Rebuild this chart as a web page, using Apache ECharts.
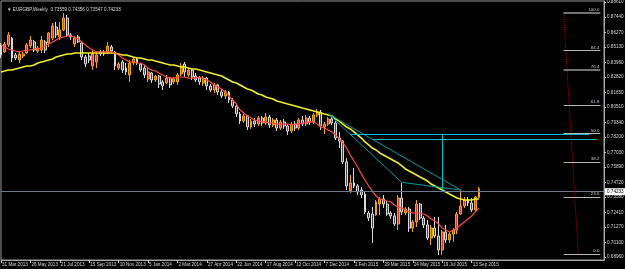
<!DOCTYPE html>
<html>
<head>
<meta charset="utf-8">
<script src="https://cdn.jsdelivr.net/npm/echarts@6/dist/echarts.min.js"></script>
<style>html,body{margin:0;padding:0;background:#000;}#c{width:625px;height:269px;}</style>
</head>
<body>
<div id="c"></div>
<script>
// ---- data (weekly EURGBP, from 31 Mar 2013) ----
const tickLabels = ["31 Mar 2013","26 May 2013","21 Jul 2013","15 Sep 2013","10 Nov 2013","5 Jan 2014","2 Mar 2014","27 Apr 2014","22 Jun 2014","17 Aug 2014","12 Oct 2014","7 Dec 2014","1 Feb 2015","29 Mar 2015","24 May 2015","19 Jul 2015","13 Sep 2015"];
const opens = [.8530,.8476,.8530,.8583,.8453,.8414,.8445,.8468,.8522,.8553,.8483,.8491,.8553,.8545,.8583,.8668,.8591,.8645,.8737,.8607,
.8537,.8591,.8545,.8437,.8445,.8368,.8399,.8476,.8468,.8468,.8514,.8476,.8352,.8399,.8352,.8299,.8391,.8422,.8383,.8352,
.8268,.8314,.8260,.8291,.8245,.8237,.8275,.8245,.8245,.8306,.8383,.8299,.8337,.8291,.8275,.8237,.8275,.8214,.8183,.8222,
.8168,.8137,.8168,.8106,.8060,.7998,.7944,.7983,.7898,.7944,.7921,.7967,.7929,.7975,.7914,.7952,.7890,.7937,.7906,.7867,
.7921,.7890,.7952,.7921,.7967,.7937,.7991,.8014,.7898,.7921,.7960,.7929,.7813,.7790,.7629,.7405,.7467,.7444,.7413,.7382,
.7236,.7228,.7221,.7305,.7344,.7305,.7236,.7213,.7151,.7351,.7236,.7267,.7120,.7167,.7305,.7197,.7144,.7043,.7120,.7059,
.6951,.7090,.7028,.7074,.7105,.7228,.7290,.7336,.7313,.7259,.73559];
const closes = [.8453,.8537,.8607,.8429,.8429,.8460,.8460,.8530,.8568,.8491,.8506,.8568,.8491,.8622,.8676,.8607,.8645,.8737,.8607,.8591,
.8583,.8553,.8437,.8383,.8414,.8460,.8453,.8460,.8460,.8522,.8483,.8368,.8383,.8337,.8322,.8391,.8422,.8391,.8337,.8299,
.8322,.8260,.8291,.8229,.8214,.8275,.8222,.8268,.8299,.8368,.8322,.8337,.8283,.8260,.8245,.8275,.8214,.8183,.8222,.8168,
.8137,.8168,.8106,.8060,.7998,.7944,.7983,.7898,.7944,.7921,.7967,.7929,.7975,.7914,.7952,.7890,.7937,.7906,.7867,.7921,
.7890,.7952,.7921,.7967,.7937,.7991,.8014,.7906,.7921,.7960,.7929,.7813,.7790,.7629,.7444,.7467,.7444,.7398,.7375,.7244,
.7197,.7120,.7321,.7344,.7305,.7228,.7213,.7151,.7351,.7244,.7267,.7120,.7167,.7305,.7197,.7144,.7043,.7120,.7059,.6951,
.7090,.7028,.7074,.7105,.7228,.7290,.7336,.7313,.7259,.7359,.74233];
const lows = [.8429,.8468,.8514,.8399,.8414,.8391,.8429,.8460,.8506,.8476,.8468,.8468,.8468,.8514,.8568,.8583,.8568,.8637,.8591,.8568,
.8514,.8545,.8414,.8360,.8391,.8337,.8352,.8445,.8445,.8460,.8468,.8337,.8337,.8314,.8299,.8245,.8376,.8376,.8322,.8275,
.8245,.8237,.8245,.8198,.8183,.8229,.8198,.8229,.8222,.8291,.8283,.8283,.8260,.8245,.8222,.8214,.8183,.8168,.8160,.8145,
.8121,.8114,.8083,.8044,.7975,.7921,.7929,.7875,.7883,.7898,.7906,.7906,.7914,.7890,.7898,.7867,.7875,.7883,.7837,.7852,
.7867,.7875,.7906,.7906,.7914,.7921,.7975,.7875,.7844,.7906,.7914,.7798,.7736,.7613,.7413,.7390,.7428,.7375,.7351,.7228,
.7174,.7005,.7213,.7221,.7274,.7213,.7190,.7136,.7105,.7221,.7221,.7090,.7090,.7128,.7182,.7120,.7028,.6990,.7043,.6913,
.6913,.7005,.7005,.7013,.7074,.7221,.7274,.7290,.7244,.7251,.73547];
const highs = [.8545,.8553,.8630,.8591,.8468,.8476,.8476,.8545,.8599,.8568,.8522,.8599,.8568,.8630,.8699,.8707,.8707,.8776,.8761,.8622,
.8599,.8607,.8553,.8453,.8468,.8491,.8476,.8491,.8491,.8553,.8530,.8483,.8399,.8414,.8391,.8414,.8437,.8429,.8391,.8376,
.8352,.8322,.8299,.8299,.8260,.8299,.8283,.8283,.8314,.8391,.8399,.8352,.8345,.8314,.8291,.8291,.8283,.8229,.8237,.8229,
.8191,.8183,.8175,.8121,.8075,.8014,.7998,.7991,.7960,.7967,.7983,.7983,.8006,.7991,.7967,.7967,.7952,.7960,.7921,.7937,
.7944,.7967,.7983,.7991,.7983,.8006,.8037,.8029,.7937,.7975,.7975,.7944,.7860,.7798,.7659,.7529,.7582,.7459,.7436,.7398,
.7251,.7282,.7336,.7359,.7375,.7328,.7251,.7236,.7375,.7467,.7282,.7282,.7182,.7336,.7313,.7213,.7182,.7144,.7205,.7205,
.7105,.7144,.7090,.7120,.7244,.7413,.7359,.7359,.7351,.7367,.74356];
const fastMA = [.8530,.8514,.8499,.8491,.8483,.8476,.8483,.8491,.8491,.8499,.8499,.8506,.8522,.8537,.8553,.8568,.8583,.8591,.8599,.8599,
.8591,.8576,.8553,.8530,.8506,.8491,.8476,.8476,.8476,.8476,.8476,.8468,.8453,.8429,.8414,.8399,.8399,.8391,.8391,.8376,
.8352,.8337,.8329,.8314,.8299,.8283,.8275,.8275,.8283,.8283,.8283,.8275,.8275,.8275,.8283,.8268,.8260,.8245,.8222,.8206,
.8191,.8168,.8137,.8106,.8075,.8029,.8006,.7983,.7967,.7952,.7944,.7937,.7937,.7929,.7929,.7921,.7921,.7921,.7921,.7914,
.7921,.7921,.7929,.7929,.7937,.7937,.7921,.7898,.7890,.7875,.7860,.7837,.7806,.7775,.7736,.7683,.7636,.7590,.7536,.7490,
.7444,.7405,.7367,.7344,.7336,.7328,.7321,.7298,.7282,.7274,.7259,.7244,.7236,.7236,.7236,.7228,.7213,.7190,.7174,.7151,
.7120,.7105,.7090,.7105,.7120,.7144,.7167,.7190,.7213,.7244,.7274];
const slowMA = [.8322,.8329,.8337,.8337,.8345,.8352,.8360,.8368,.8368,.8376,.8391,.8399,.8406,.8414,.8422,.8437,.8445,.8453,.8460,.8460,
.8468,.8468,.8468,.8468,.8468,.8468,.8468,.8468,.8468,.8468,.8468,.8468,.8460,.8453,.8453,.8445,.8437,.8429,.8429,.8422,
.8414,.8414,.8406,.8399,.8391,.8383,.8376,.8376,.8368,.8360,.8360,.8352,.8345,.8345,.8337,.8329,.8322,.8314,.8306,.8299,
.8291,.8275,.8260,.8245,.8237,.8222,.8206,.8191,.8183,.8168,.8152,.8145,.8129,.8121,.8114,.8098,.8091,.8083,.8075,.8068,
.8060,.8052,.8044,.8037,.8029,.8021,.8014,.8006,.7998,.7991,.7983,.7960,.7944,.7921,.7898,.7883,.7860,.7837,.7813,.7783,
.7760,.7736,.7721,.7698,.7683,.7667,.7652,.7636,.7621,.7598,.7575,.7559,.7544,.7529,.7513,.7498,.7482,.7459,.7444,.7428,
.7413,.7398,.7382,.7367,.7351,.7344,.7336,.7336,.7336,.7344,.7344];
const yLabels = [0.88610,0.87440,0.86270,0.85130,0.83960,0.82820,0.81650,0.80510,0.79340,0.78200,0.77030,0.75890,0.74720,0.73580,0.72410,0.71270,0.70100,0.68960];
const lastPrice = 0.74233;
const fibHigh = 0.8776, fibLow = 0.6920;
const fibLevels = [0, 23.6, 38.2, 50.0, 61.8, 76.4, 84.4, 100.0];
const fibStart = 153, fibEnd = 163;
// drawn objects: [categoryIndex, price]
const triA = [89, 0.7999], triB = [109, 0.7472], triC = [125, 0.7413];
const hLine1 = [[95, 0.7844], [160, 0.7844]];
const hLine2 = [[101, 0.7806], [162, 0.7806]];
const vLine = [[120, 0.7844], [120, 0.7405]];
const futureBars = 34;

// ---- build ----
const months = ["Jan","Feb","Mar","Apr","May","Jun","Jul","Aug","Sep","Oct","Nov","Dec"];
const cats = [];
const start = new Date(Date.UTC(2013, 2, 31));
for (let i = 0; i < opens.length + futureBars; i++) {
  const d = new Date(start.getTime() + i * 7 * 86400000);
  cats.push(d.getUTCDate() + " " + months[d.getUTCMonth()] + " " + d.getUTCFullYear());
}
const ohlc = opens.map((o, i) => [o, closes[i], lows[i], highs[i]]);
const labelIdx = new Set(tickLabels.map(t => cats.indexOf(t)));

const font = 'Liberation Sans';
const fs = 4.6;
const fibData = fibLevels.map(f => {
  const p = fibLow + (fibHigh - fibLow) * f / 100;
  const dark = (f === 100 || f === 76.4);
  return [
    {coord: [fibStart, p], lineStyle: {color: dark ? '#707070' : '#B8B8B8', width: dark ? 2 : 1, type: 'solid'},
     label: {show: true, position: 'insideEndTop', formatter: f.toFixed(1), color: '#C8C8D8', fontSize: 4.4, distance: 1, fontFamily: font}},
    {coord: [fibEnd, p]}
  ];
});
const cyan = '#00C0C0', teal = '#009A9A';
const drawData = [
  [{coord: triA, lineStyle: {color: teal, width: 1, type: 'solid'}}, {coord: triB}],
  [{coord: triA, lineStyle: {color: teal, width: 1, type: 'solid'}}, {coord: triC}],
  [{coord: triB, lineStyle: {color: teal, width: 1, type: 'solid'}}, {coord: triC}],
  [{coord: hLine1[0], lineStyle: {color: cyan, width: 1, type: 'solid'}}, {coord: hLine1[1]}],
  [{coord: hLine2[0], lineStyle: {color: cyan, width: 1, type: 'solid'}}, {coord: hLine2[1]}],
  [{coord: vLine[0], lineStyle: {color: cyan, width: 1, type: 'solid'}}, {coord: vLine[1]}],
  [{coord: [fibStart, fibHigh], lineStyle: {color: '#B00000', width: 1, type: [1, 1]}}, {coord: [157, fibLow]}],
  ...fibData
];

const chart = echarts.init(document.getElementById('c'), null, {renderer: 'canvas'});
chart.setOption({
  animation: false,
  backgroundColor: '#000000',
  title: {
    text: '\u25BC EURGBP,Weekly  0.73559 0.74356 0.73547 0.74233',
    left: 2, top: 2,
    textStyle: {color: '#D8D8D8', fontSize: fs, fontWeight: 'normal', fontFamily: font}
  },
  grid: {left: 1, top: 1, right: 21, bottom: 9, show: true, borderColor: '#9A9A9A', borderWidth: 1, backgroundColor: 'transparent',
         outerBoundsMode: 'none', containLabel: false},
  xAxis: {
    type: 'category', data: cats, boundaryGap: false,
    axisLine: {lineStyle: {color: '#A8A8A8', width: 1}},
    axisTick: {show: true, length: 3, inside: false, interval: (i) => labelIdx.has(i), lineStyle: {color: '#C8C8C8'}},
    axisLabel: {show: true, interval: (i) => labelIdx.has(i), hideOverlap: false, color: '#D8D8D8', fontSize: fs, fontFamily: font, align: 'left', margin: 2, padding: [0, 0, 0, 1]},
    splitLine: {show: false}
  },
  yAxis: {
    type: 'value', position: 'right', scale: true,
    min: 0.68740, max: 0.88683,
    axisLine: {show: true, lineStyle: {color: '#A8A8A8', width: 1}},
    axisTick: {show: true, length: 2, customValues: yLabels, lineStyle: {color: '#C8C8C8'}},
    axisLabel: {show: true, customValues: yLabels, hideOverlap: false, formatter: v => v.toFixed(5), color: '#D8D8D8', fontSize: fs, fontFamily: font, margin: 3},
    splitLine: {show: false}
  },
  series: [
    {
      type: 'candlestick', data: ohlc, barWidth: 2.4,
      itemStyle: {color: '#E03C14', color0: '#4A4A4A', borderColor: '#F0A800', borderColor0: '#D8D8D8', borderWidth: 1},
      markLine: {
        silent: true, symbol: ['none', 'none'], animation: false,
        data: [
          {yAxis: lastPrice, lineStyle: {color: '#6A7A8C', width: 1, type: 'solid'},
           label: {show: true, position: 'end', formatter: lastPrice.toFixed(5), color: '#000', backgroundColor: '#FFFFFF', fontSize: fs, fontFamily: font, padding: [1, 2, 1, 2], distance: 1}},
          ...drawData
        ]
      }
    },
    {type: 'line', data: slowMA, symbol: 'none', lineStyle: {color: '#F0F020', width: 1.6}, z: 3},
    {type: 'line', data: fastMA, symbol: 'none', lineStyle: {color: '#FF4A44', width: 1.2}, z: 4}
  ]
});
</script>
</body>
</html>
